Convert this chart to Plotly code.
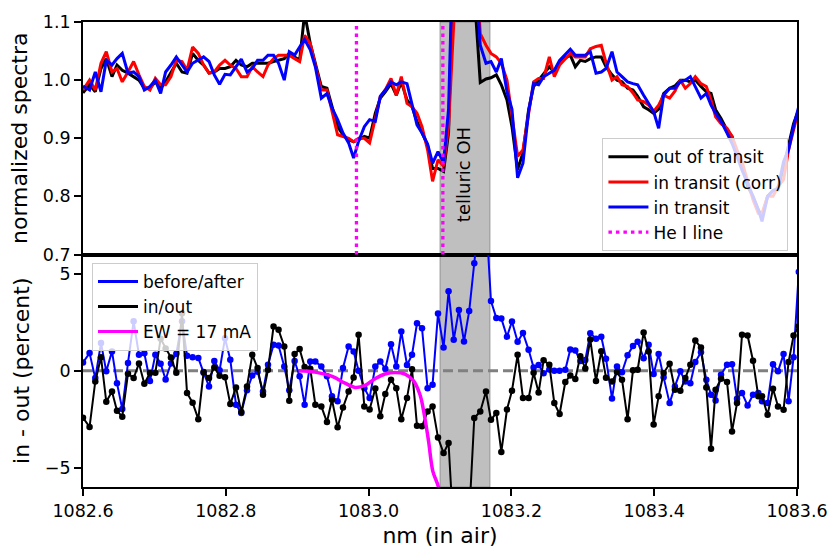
import plotly.graph_objects as go
from plotly.subplots import make_subplots

# -----------------------------------------------------------------------------
# Data
# -----------------------------------------------------------------------------
wave = [
    1082.6000, 1082.6092, 1082.6172, 1082.6252, 1082.6326, 1082.6406, 1082.6476, 1082.6550, 1082.6630, 1082.6709,
    1082.6784, 1082.6859, 1082.6938, 1082.7013, 1082.7087, 1082.7157, 1082.7232, 1082.7307, 1082.7387, 1082.7457,
    1082.7535, 1082.7615, 1082.7689, 1082.7765, 1082.7839, 1082.7913, 1082.7989, 1082.8063, 1082.8143, 1082.8217,
    1082.8297, 1082.8371, 1082.8445, 1082.8521, 1082.8591, 1082.8669, 1082.8739, 1082.8819, 1082.8889, 1082.8964,
    1082.9034, 1082.9104, 1082.9183, 1082.9254, 1082.9338, 1082.9417, 1082.9487, 1082.9566, 1082.9641, 1082.9720,
    1082.9790, 1082.9860, 1082.9940, 1083.0014, 1083.0094, 1083.0164, 1083.0234, 1083.0314, 1083.0388, 1083.0458,
    1083.0538, 1083.0608, 1083.0678, 1083.0748, 1083.0826, 1083.0896, 1083.0972, 1083.1050, 1083.1120, 1083.1192,
    1083.1265, 1083.1336, 1083.1409, 1083.1480, 1083.1564, 1083.1644, 1083.1714, 1083.1789, 1083.1859, 1083.1938,
    1083.2008, 1083.2087, 1083.2162, 1083.2241, 1083.2311, 1083.2381, 1083.2451, 1083.2531, 1083.2601, 1083.2675,
    1083.2755, 1083.2825, 1083.2895, 1083.2965, 1083.3035, 1083.3105, 1083.3185, 1083.3259, 1083.3325, 1083.3409,
    1083.3479, 1083.3549, 1083.3627, 1083.3703, 1083.3768, 1083.3852, 1083.3922, 1083.3992, 1083.4062, 1083.4132,
    1083.4216, 1083.4290, 1083.4366, 1083.4436, 1083.4506, 1083.4576, 1083.4655, 1083.4730, 1083.4796, 1083.4860,
    1083.4936, 1083.5020, 1083.5090, 1083.5160, 1083.5230, 1083.5308, 1083.5384, 1083.5458, 1083.5510, 1083.5588,
    1083.5664, 1083.5734, 1083.5812, 1083.5882, 1083.5952, 1083.6025,
]

out_of_transit = [
    0.978, 0.992, 0.980, 1.020, 1.037, 1.006, 1.026, 1.017, 1.012, 1.006,
    1.000, 0.986, 0.986, 0.997, 0.986, 0.997, 1.012, 1.029, 1.014, 1.012,
    1.046, 1.034, 1.026, 1.012, 1.014, 1.020, 1.020, 1.023, 1.034, 1.026,
    1.023, 1.029, 1.029, 1.029, 1.029, 1.032, 1.034, 1.037, 1.046, 1.040,
    1.034, 1.115, 1.063, 1.029, 0.989, 0.986, 0.957, 0.920, 0.906, 0.897,
    0.894, 0.897, 0.903, 0.900, 0.943, 0.969, 0.980, 0.994, 0.974, 0.997,
    0.966, 0.954, 0.929, 0.909, 0.888, 0.848, 0.848, 0.843, 0.910, 1.250,
    1.400, 1.450, 1.350, 1.150, 0.996, 1.002, 1.004, 1.009, 0.992, 0.966,
    0.920, 0.846, 0.875, 0.949, 0.989, 1.000, 1.010, 1.023, 1.014, 1.030,
    1.038, 1.043, 1.023, 1.034, 1.032, 1.037, 1.040, 1.040, 1.023, 1.009,
    1.000, 0.997, 0.986, 0.983, 0.972, 0.954, 0.949, 0.943, 0.950, 0.977,
    0.986, 0.990, 1.000, 1.000, 0.997, 1.000, 0.989, 0.980, 0.977, 0.949,
    0.934, 0.914, 0.903, 0.874, 0.854, 0.817, 0.800, 0.777, 0.766, 0.800,
    0.810, 0.811, 0.851, 0.889, 0.925, 0.950,
]

in_transit_corr = [
    0.983, 1.000, 0.983, 1.029, 1.049, 1.014, 1.020, 0.997, 1.014, 1.032,
    1.009, 0.989, 0.983, 1.003, 0.992, 0.992, 1.006, 1.034, 1.032, 1.017,
    1.057, 1.046, 1.026, 1.012, 1.014, 1.026, 1.034, 1.026, 1.020, 1.006,
    1.006, 1.023, 1.014, 1.006, 1.026, 1.037, 1.043, 1.043, 1.043, 1.037,
    1.032, 1.077, 1.063, 1.026, 0.983, 0.983, 0.949, 0.906, 0.903, 0.900,
    0.894, 0.900, 0.900, 0.892, 0.934, 0.972, 0.983, 1.003, 0.974, 1.006,
    0.960, 0.954, 0.943, 0.920, 0.880, 0.826, 0.863, 0.852, 0.920, 1.250,
    1.400, 1.450, 1.400, 1.250, 1.080, 1.060, 1.046, 1.040, 1.029, 1.000,
    0.940, 0.869, 0.880, 0.943, 0.997, 1.003, 1.003, 1.040, 1.006, 1.026,
    1.037, 1.046, 1.040, 1.040, 1.040, 1.054, 1.058, 1.060, 1.030, 1.000,
    1.006, 0.992, 0.989, 0.978, 0.966, 0.963, 0.957, 0.946, 0.957, 0.974,
    0.969, 0.981, 1.000, 0.986, 0.994, 1.006, 0.994, 0.989, 0.966, 0.937,
    0.925, 0.917, 0.903, 0.880, 0.860, 0.826, 0.794, 0.771, 0.771, 0.800,
    0.800, 0.817, 0.829, 0.880, 0.914, 0.950,
]

in_transit = [
    0.990, 0.983, 1.014, 0.980, 1.034, 1.026, 1.037, 1.046, 1.012, 1.014,
    1.006, 0.983, 0.989, 1.000, 0.977, 1.014, 1.026, 1.040, 1.026, 1.014,
    1.029, 1.034, 1.040, 1.032, 1.009, 0.993, 1.010, 1.009, 1.023, 1.036,
    1.014, 1.020, 1.034, 1.034, 1.043, 1.043, 1.029, 1.000, 1.049, 1.043,
    1.057, 1.070, 1.052, 1.023, 0.969, 0.977, 0.952, 0.932, 0.909, 0.892,
    0.866, 0.895, 0.920, 0.932, 0.929, 0.972, 0.983, 0.997, 0.992, 0.997,
    0.994, 0.960, 0.923, 0.909, 0.890, 0.857, 0.877, 0.858, 0.950, 1.280,
    1.450, 1.500, 1.400, 1.220, 1.060, 1.029, 1.032, 1.014, 1.037, 0.980,
    0.950, 0.832, 0.857, 0.946, 0.994, 0.992, 1.006, 1.012, 1.017, 1.034,
    1.044, 1.053, 1.043, 1.043, 1.043, 1.049, 1.012, 1.014, 1.020, 1.049,
    1.014, 1.006, 0.997, 0.994, 0.992, 0.974, 0.960, 0.946, 0.917, 0.974,
    0.986, 0.986, 0.997, 1.000, 1.006, 0.988, 0.969, 0.977, 0.957, 0.943,
    0.929, 0.909, 0.891, 0.869, 0.845, 0.823, 0.800, 0.777, 0.757, 0.800,
    0.810, 0.814, 0.860, 0.880, 0.920, 0.955,
]

in_out = [
    -2.43, -2.90, -0.55, 0.70, -1.60, -1.07, -2.07, -2.37, -0.15, -0.38,
    0.38, -0.67, -0.12, -0.10, 1.65, 1.15, 0.68, -0.10, 2.97, -1.15,
    -1.65, -2.50, -0.07, -0.38, 0.17, -0.26, -0.34, -1.72, -0.86, -2.13,
    -0.81, 0.82, 0.14, -1.24, 0.05, 2.29, 2.11, 1.25, -1.55, 0.86,
    1.12, 0.20, 0.10, -1.75, -1.84, -2.65, -1.50, -2.92, -1.90, -1.07,
    -0.35, 1.86, -1.84, -2.00, -0.92, -2.35, -1.20, -0.46, -0.90, -2.50,
    -1.40, 0.08, -2.84, -2.87, -2.10, -1.84, -3.45, -4.25, -3.73, -8.50,
    -11.0, -10.0, -7.50, -2.44, -2.10, -1.07, -2.53, -2.18, -4.19, -2.00,
    -1.03, 0.82, -1.41, -1.41, -0.10, -1.12, 0.54, 0.31, -1.67, -2.23,
    -0.58, -0.24, -0.43, 0.75, 0.12, 1.61, -0.53, 1.01, -0.36, -0.56,
    -0.07, -0.46, -2.50, 0.03, 0.05, 1.98, 1.00, -2.78, -1.32, -0.12,
    0.36, -0.98, -1.03, -0.38, 0.31, 1.56, 1.20, -0.86, -4.02, -0.98,
    -0.41, -0.58, -3.13, -1.67, 1.86, 1.82, 0.52, -1.32, -1.32, -2.27,
    -0.93, -1.84, -2.01, 0.45, 1.82, 2.30,
]

before_after = [
    0.43, 0.91, -0.38, 1.43, -0.03, 1.00, -0.64, -1.98, 0.40, 2.55,
    0.82, 0.90, -0.53, 0.82, 0.36, -0.45, 0.38, 0.88, 2.55, 0.78,
    0.70, 0.66, -0.10, -0.81, 0.50, 0.02, 1.68, 0.57, -1.75, -2.18,
    -1.00, -0.25, -0.05, -1.07, 0.31, 1.34, 1.30, 0.22, -1.00, 0.50,
    -0.29, -1.75, 0.48, 0.48, 0.22, -0.29, -1.32, -1.58, 0.14, 1.25,
    1.00, 0.00, -0.90, -1.40, 0.22, 0.48, 0.10, 1.37, 0.22, 2.03,
    0.30, 0.82, 2.45, 2.20, -0.90, -0.72, 2.95, 1.20, 4.10, 1.60,
    3.14, 1.51, 3.08, 5.55, 8.50, 8.00, 3.60, 2.72, 2.70, 1.76,
    2.54, 1.50, 1.95, 1.08, 0.17, 0.30, -0.13, 0.07, 0.00, 0.00,
    0.05, 1.10, 1.05, 0.50, 0.55, 1.94, 1.65, 1.75, 0.62, -1.43,
    0.22, -0.08, 0.80, 1.28, 1.50, 0.65, 1.34, -0.17, 0.86, -0.34,
    -1.67, -0.81, -0.03, -0.55, -0.64, 0.45, 0.96, -0.46, -1.24, -1.53,
    -0.21, 0.31, 0.34, -1.44, -1.15, -1.79, -1.24, -1.15, -1.58, -1.67,
    0.34, -0.03, 0.86, -1.58, 0.70, 5.10,
]

# EW = 17 mA model curve
ew_wave = [1082.902, 1082.925, 1082.949, 1082.967, 1082.981, 1082.995, 1083.009, 1083.023,
           1083.037, 1083.051, 1083.063, 1083.072, 1083.078, 1083.084, 1083.090, 1083.098, 1083.102]
ew_model = [0.0, -0.07, -0.29, -0.64, -0.86, -0.76, -0.41, -0.17,
            -0.09, -0.17, -0.52, -1.24, -2.27, -3.64, -5.19, -6.03, -7.5]

he_lines = [1082.983, 1083.104]
telluric_band = [1083.10, 1083.17]
x_ticks = [1082.6, 1082.8, 1083.0, 1083.2, 1083.4, 1083.6]

FONT = 'DejaVu Sans'
MAGENTA = '#ff00ff'
DOT = '3.5px,4px'

# -----------------------------------------------------------------------------
# Two stacked panels sharing the wavelength axis
# -----------------------------------------------------------------------------
fig = make_subplots(rows=2, cols=1, shared_xaxes=True, vertical_spacing=0)

# top panel spectra
for y, name, color in [(out_of_transit, 'out of transit', 'black'),
                       (in_transit_corr, 'in transit (corr)', '#ff0000'),
                       (in_transit, 'in transit', '#0000ff')]:
    fig.add_trace(go.Scatter(x=wave, y=y, mode='lines', name=name,
                             line=dict(color=color, width=3),
                             legend='legend', legendgroup=name), row=1, col=1)

# legend entry for the He I lines (drawn as shapes below)
fig.add_trace(go.Scatter(x=[None], y=[None], mode='lines', name='He I line',
                         line=dict(color=MAGENTA, width=3.3, dash=DOT),
                         legend='legend', legendgroup='he'), row=1, col=1)

# bottom panel: residuals with markers, legend entries without markers
fig.add_trace(go.Scatter(x=wave, y=before_after, mode='lines+markers', showlegend=False,
                         line=dict(color='#0000ff', width=2), marker=dict(size=6.5, color='#0000ff')),
              row=2, col=1)
fig.add_trace(go.Scatter(x=wave, y=in_out, mode='lines+markers', showlegend=False,
                         line=dict(color='black', width=2), marker=dict(size=6.5, color='black')),
              row=2, col=1)
fig.add_trace(go.Scatter(x=ew_wave, y=ew_model, mode='lines', showlegend=False,
                         line=dict(color=MAGENTA, width=3.5, shape='spline')), row=2, col=1)

for name, color in [('before/after', '#0000ff'), ('in/out', 'black'), ('EW = 17 mA', MAGENTA)]:
    fig.add_trace(go.Scatter(x=[None], y=[None], mode='lines', name=name,
                             line=dict(color=color, width=3),
                             legend='legend2', legendgroup=name), row=2, col=1)

# -----------------------------------------------------------------------------
# Telluric band, He I lines and zero line
# -----------------------------------------------------------------------------
fig.add_shape(type='rect', xref='x', yref='paper', x0=telluric_band[0], x1=telluric_band[1],
              y0=0, y1=1, fillcolor='rgba(128,128,128,0.5)',
              line=dict(color='rgba(110,110,110,0.6)', width=1), layer='below')
fig.add_shape(type='line', xref='x2 domain', yref='y2', x0=0, x1=1, y0=0, y1=0,
              line=dict(color='#808080', width=3, dash='10px,5px'), layer='below')
for lam in he_lines:
    fig.add_shape(type='line', xref='x', yref='y domain', x0=lam, x1=lam, y0=0, y1=1,
                  line=dict(color=MAGENTA, width=3.3, dash=DOT))

fig.add_annotation(x=sum(telluric_band) / 2 - 0.001, y=0.837, xref='x', yref='y',
                   text='telluric OH', textangle=-90, showarrow=False,
                   font=dict(family=FONT, size=18, color='black'))

# -----------------------------------------------------------------------------
# Axes and legends
# -----------------------------------------------------------------------------
axis_style = dict(showline=True, linecolor='black', linewidth=1.8, mirror=True,
                  ticks='outside', ticklen=7, tickwidth=1.5, tickcolor='black',
                  showgrid=False, zeroline=False, automargin=False,
                  tickfont=dict(family=FONT, size=17.5, color='black'))

fig.update_xaxes(axis_style, range=[1082.6, 1083.6], tickvals=x_ticks, tickformat='.1f')
fig.update_xaxes(showticklabels=False, ticks='', row=1, col=1)
fig.update_xaxes(title=dict(text='nm (in air)', font=dict(family=FONT, size=22), standoff=8),
                 row=2, col=1)

fig.update_yaxes(axis_style)
fig.update_yaxes(range=[0.7, 1.1], tickvals=[0.7, 0.8, 0.9, 1.0, 1.1], tickformat='.1f',
                 title=dict(text='normalized spectra', font=dict(family=FONT, size=22), standoff=9),
                 row=1, col=1)
fig.update_yaxes(range=[-6, 6], tickvals=[-5, 0, 5],
                 title=dict(text='in - out (percent)', font=dict(family=FONT, size=22), standoff=9),
                 row=2, col=1)

legend_style = dict(font=dict(family=FONT, size=17, color='black'),
                    bgcolor='rgba(255,255,255,0.8)', bordercolor='#cccccc', borderwidth=1,
                    itemwidth=40, tracegroupgap=3, traceorder='normal')

fig.update_layout(
    width=830, height=554,
    margin=dict(l=83, r=33, t=22, b=67),
    plot_bgcolor='white', paper_bgcolor='white',
    font=dict(family=FONT, color='black'),
    legend=dict(legend_style, x=0.988, y=0.750, xanchor='right', yanchor='top'),
    legend2=dict(legend_style, x=0.0126, y=0.482, xanchor='left', yanchor='top'),
)

# drop the default page margin so the figure fills the window exactly
fig.write_html('out.html',
               config={'displayModeBar': False},
               post_script="document.body.style.margin='0';"
                           "document.documentElement.style.overflow='hidden';")
